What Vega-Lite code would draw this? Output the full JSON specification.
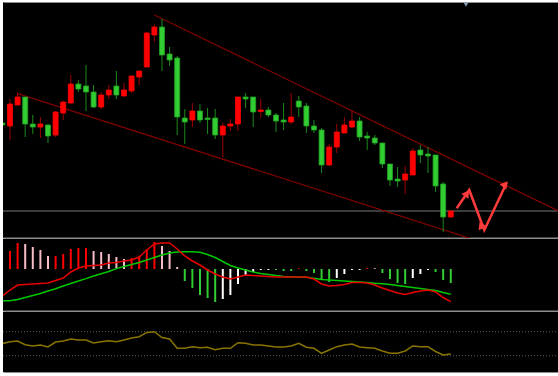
{
  "$schema": "https://vega.github.io/schema/vega-lite/v6.json",
  "background": "white",
  "padding": {"left": 2, "top": 2, "right": 0, "bottom": 3},
  "spacing": 1,
  "bounds": "flush",
  "config": {
    "view": {"stroke": null, "fill": "black"},
    "axis": {"labels": false, "ticks": false, "grid": false, "domainColor": "#8c8c8c", "title": null},
    "scale": {"continuousPadding": 0}
  },
  "resolve": {"scale": {"color": "independent", "fill": "independent", "stroke": "independent", "angle": "independent"}},
  "datasets": {
    "c": [
      {"i":0,"o":127,"h":127,"l":125,"c":125,"dir":"down","hist":0,"hs":"up+","macd":-27,"sig":-31.7,"rsi":50.3},
      {"i":1,"o":124,"h":151,"l":110,"c":146,"dir":"up","hist":18,"hs":"up+","macd":-21,"sig":-31.7,"rsi":53.3},
      {"i":2,"o":145,"h":157,"l":145,"c":153,"dir":"up","hist":26,"hs":"up+","macd":-16,"sig":-30.5,"rsi":54.5},
      {"i":3,"o":153,"h":153,"l":113,"c":126,"dir":"down","hist":25,"hs":"down+","macd":-15.5,"sig":-28.5,"rsi":48.2},
      {"i":4,"o":126,"h":135,"l":116,"c":123,"dir":"down","hist":22,"hs":"down+","macd":-15,"sig":-26.5,"rsi":46.2},
      {"i":5,"o":123,"h":133,"l":112,"c":126,"dir":"up","hist":19,"hs":"down+","macd":-14.5,"sig":-24.5,"rsi":47.8},
      {"i":6,"o":125,"h":126,"l":107,"c":114,"dir":"down","hist":13,"hs":"down+","macd":-14,"sig":-22,"rsi":44.5},
      {"i":7,"o":115,"h":139,"l":113,"c":138,"dir":"up","hist":13,"hs":"up+","macd":-11.5,"sig":-19.7,"rsi":52.8},
      {"i":8,"o":137,"h":149,"l":130,"c":148,"dir":"up","hist":15,"hs":"up+","macd":-9,"sig":-17,"rsi":54.5},
      {"i":9,"o":147,"h":175,"l":146,"c":166,"dir":"up","hist":20,"hs":"up+","macd":-3,"sig":-14.5,"rsi":57.8},
      {"i":10,"o":166,"h":170,"l":158,"c":161,"dir":"down","hist":21,"hs":"up+","macd":1,"sig":-12,"rsi":56.2},
      {"i":11,"o":164,"h":185,"l":139,"c":158,"dir":"down","hist":21,"hs":"up+","macd":3,"sig":-9.6,"rsi":56.2},
      {"i":12,"o":158,"h":165,"l":142,"c":143,"dir":"down","hist":18,"hs":"down+","macd":3.5,"sig":-7,"rsi":51.2},
      {"i":13,"o":143,"h":158,"l":141,"c":155,"dir":"up","hist":17,"hs":"down+","macd":4,"sig":-4.8,"rsi":53.3},
      {"i":14,"o":155,"h":165,"l":151,"c":160,"dir":"up","hist":15,"hs":"down+","macd":6,"sig":-2.5,"rsi":55},
      {"i":15,"o":164,"h":179,"l":151,"c":155,"dir":"down","hist":12,"hs":"down+","macd":6.5,"sig":0.4,"rsi":53.3},
      {"i":16,"o":154,"h":167,"l":154,"c":160,"dir":"up","hist":10,"hs":"down+","macd":8,"sig":2.5,"rsi":56.2},
      {"i":17,"o":159,"h":174,"l":157,"c":174,"dir":"up","hist":11,"hs":"up+","macd":9,"sig":4.5,"rsi":59.5},
      {"i":18,"o":173,"h":179,"l":165,"c":179,"dir":"up","hist":13,"hs":"up+","macd":12,"sig":6.5,"rsi":61.7},
      {"i":19,"o":183,"h":218,"l":183,"c":217,"dir":"up","hist":20,"hs":"up+","macd":19,"sig":9,"rsi":68.7},
      {"i":20,"o":215,"h":226,"l":208,"c":223,"dir":"up","hist":27,"hs":"up+","macd":25,"sig":11.5,"rsi":70},
      {"i":21,"o":223,"h":231,"l":179,"c":195,"dir":"down","hist":23,"hs":"down+","macd":26,"sig":14,"rsi":60.3},
      {"i":22,"o":196,"h":203,"l":184,"c":190,"dir":"down","hist":18,"hs":"down+","macd":26,"sig":16,"rsi":57.8},
      {"i":23,"o":192,"h":194,"l":115,"c":133,"dir":"down","hist":2,"hs":"down+","macd":20,"sig":17,"rsi":42.3},
      {"i":24,"o":132,"h":141,"l":106,"c":128,"dir":"down","hist":-12,"hs":"down-","macd":13,"sig":17.3,"rsi":42.3},
      {"i":25,"o":130,"h":147,"l":123,"c":139,"dir":"up","hist":-19,"hs":"down-","macd":8,"sig":17.3,"rsi":45},
      {"i":26,"o":139,"h":146,"l":127,"c":130,"dir":"down","hist":-26,"hs":"down-","macd":4,"sig":16.8,"rsi":43.3},
      {"i":27,"o":132,"h":142,"l":116,"c":130.5,"dir":"down","hist":-29,"hs":"down-","macd":-1,"sig":14.5,"rsi":44},
      {"i":28,"o":132,"h":141,"l":111,"c":115,"dir":"down","hist":-33,"hs":"down-","macd":-5,"sig":11.5,"rsi":40},
      {"i":29,"o":115,"h":127,"l":93,"c":124,"dir":"up","hist":-30,"hs":"up-","macd":-8,"sig":7.5,"rsi":42.3},
      {"i":30,"o":124,"h":131,"l":119,"c":126,"dir":"up","hist":-26,"hs":"up-","macd":-10,"sig":3.5,"rsi":42.3},
      {"i":31,"o":126,"h":153,"l":119,"c":153,"dir":"up","hist":-15,"hs":"up-","macd":-8,"sig":1,"rsi":51.7},
      {"i":32,"o":153,"h":157,"l":142,"c":151,"dir":"down","hist":-6,"hs":"up-","macd":-6,"sig":-1,"rsi":50.7},
      {"i":33,"o":153,"h":153,"l":123,"c":138,"dir":"down","hist":-3,"hs":"up-","macd":-6.5,"sig":-3,"rsi":47.8},
      {"i":34,"o":138.5,"h":151,"l":132,"c":140,"dir":"up","hist":-1,"hs":"up-","macd":-7,"sig":-4.5,"rsi":47.8},
      {"i":35,"o":140,"h":143,"l":133,"c":135,"dir":"down","hist":-1,"hs":"up-","macd":-7.5,"sig":-5.5,"rsi":46.2},
      {"i":36,"o":135,"h":137,"l":118,"c":129,"dir":"down","hist":-1,"hs":"down-","macd":-8,"sig":-6.5,"rsi":44.5},
      {"i":37,"o":130,"h":147,"l":120,"c":128,"dir":"down","hist":-2,"hs":"down-","macd":-8,"sig":-7.5,"rsi":44.5},
      {"i":38,"o":128,"h":157,"l":126,"c":133,"dir":"up","hist":-2,"hs":"down-","macd":-8,"sig":-7.8,"rsi":46.2},
      {"i":39,"o":149,"h":154,"l":133,"c":143,"dir":"down","hist":0.8,"hs":"up+","macd":-8,"sig":-8,"rsi":50.7},
      {"i":40,"o":144,"h":147,"l":117,"c":124,"dir":"down","hist":-2,"hs":"down-","macd":-8,"sig":-8.3,"rsi":44},
      {"i":41,"o":124,"h":130,"l":117,"c":120,"dir":"down","hist":-4,"hs":"down-","macd":-10,"sig":-9.3,"rsi":42.3},
      {"i":42,"o":120,"h":122,"l":77,"c":85,"dir":"down","hist":-11,"hs":"down-","macd":-15,"sig":-10.5,"rsi":34},
      {"i":43,"o":85,"h":106,"l":84,"c":103,"dir":"up","hist":-13,"hs":"down-","macd":-17,"sig":-11,"rsi":39.5},
      {"i":44,"o":103,"h":126,"l":97,"c":118,"dir":"up","hist":-9,"hs":"up-","macd":-16.5,"sig":-11.5,"rsi":45},
      {"i":45,"o":117,"h":133,"l":117,"c":125,"dir":"up","hist":-5,"hs":"up-","macd":-15.5,"sig":-12,"rsi":47.8},
      {"i":46,"o":123,"h":140,"l":122,"c":129,"dir":"up","hist":-1,"hs":"up-","macd":-13.5,"sig":-12.5,"rsi":49.5},
      {"i":47,"o":129,"h":133,"l":109,"c":113,"dir":"down","hist":-1,"hs":"up-","macd":-13.5,"sig":-13,"rsi":44.5},
      {"i":48,"o":114,"h":118,"l":100,"c":112,"dir":"down","hist":0.8,"hs":"up+","macd":-14,"sig":-13.5,"rsi":43.3},
      {"i":49,"o":112,"h":115,"l":105,"c":107,"dir":"down","hist":0.8,"hs":"down+","macd":-16,"sig":-14.2,"rsi":42.3},
      {"i":50,"o":107,"h":107,"l":82,"c":86,"dir":"down","hist":-4,"hs":"down-","macd":-19,"sig":-14.7,"rsi":37.8},
      {"i":51,"o":86,"h":86,"l":64,"c":70,"dir":"down","hist":-10,"hs":"down-","macd":-21.5,"sig":-15.5,"rsi":34},
      {"i":52,"o":71,"h":83,"l":63,"c":69,"dir":"down","hist":-14,"hs":"down-","macd":-24,"sig":-16.5,"rsi":34},
      {"i":53,"o":70,"h":84,"l":56,"c":76,"dir":"up","hist":-15,"hs":"down-","macd":-25.5,"sig":-17.5,"rsi":37.8},
      {"i":54,"o":75,"h":102,"l":75,"c":99,"dir":"up","hist":-9,"hs":"up-","macd":-23.5,"sig":-18.5,"rsi":46.2},
      {"i":55,"o":100,"h":105,"l":87,"c":95,"dir":"down","hist":-5,"hs":"up-","macd":-22,"sig":-19.5,"rsi":45},
      {"i":56,"o":96,"h":103,"l":77,"c":94,"dir":"down","hist":-1,"hs":"up-","macd":-21,"sig":-20.5,"rsi":45},
      {"i":57,"o":95,"h":95,"l":58,"c":64,"dir":"down","hist":-3,"hs":"down-","macd":-23,"sig":-21.5,"rsi":37},
      {"i":58,"o":66,"h":68,"l":18,"c":33,"dir":"down","hist":-11,"hs":"down-","macd":-28.5,"sig":-23.5,"rsi":31.2},
      {"i":59,"o":33,"h":39,"l":33,"c":39,"dir":"up","hist":-14,"hs":"down-","macd":-32.7,"sig":-25.3,"rsi":32.8}
    ],
    "trend": [
      {"side":"upper","i":19.99,"v":235},
      {"side":"upper","i":73.24,"v":38.7},
      {"side":"lower","i":1.92,"v":156.7},
      {"side":"lower","i":61.66,"v":11.4}
    ],
    "price": [{"v":39}],
    "arrow": [
      {"k":0,"i":59.78,"v":41.7},
      {"k":1,"i":61.43,"v":60},
      {"k":2,"i":63.41,"v":20},
      {"k":3,"i":66.36,"v":67.3}
    ],
    "heads": [
      {"seg":1,"i":61.13,"v":56.7},
      {"seg":2,"i":63.22,"v":23.7},
      {"seg":3,"i":66.13,"v":63.7}
    ],
    "shift": [{"i":61.0,"v":246.3}],
    "levels": [{"r":70},{"r":30}]
  },
  "vconcat": [
    {
      "width": 556,
      "height": 236,
      "resolve": {"axis": {"x": "independent"}},
      "layer": [
        {
          "data": {"name": "price"},
          "mark": {"type": "rule", "color": "#767676", "strokeWidth": 1},
          "encoding": {"y": {"field": "v", "type": "quantitative", "scale": {"domain": [12, 248], "nice": false, "zero": false}, "axis": null}}
        },
        {
          "data": {"name": "trend"},
          "mark": {"type": "line", "color": "#7d0000", "strokeWidth": 1.3, "clip": true},
          "encoding": {
            "x": {"field": "i", "type": "quantitative", "scale": {"domain": [0.08, 73.24], "nice": false, "zero": false, "padding": 0}, "axis": {"orient": "top", "domainWidth": 1}},
            "y": {"field": "v", "type": "quantitative", "axis": null},
            "detail": {"field": "side"}
          }
        },
        {
          "data": {"name": "c"},
          "mark": {"type": "rule", "strokeWidth": 1, "clip": true},
          "encoding": {
            "x": {"field": "i", "type": "quantitative", "axis": {"orient": "bottom", "domainWidth": 2}},
            "y": {"field": "l", "type": "quantitative", "axis": null},
            "y2": {"field": "h"},
            "color": {"field": "dir", "type": "nominal", "scale": {"domain": ["up", "down"], "range": ["#a00000", "#1d8a1d"]}, "legend": null}
          }
        },
        {
          "data": {"name": "c"},
          "mark": {"type": "bar", "size": 5, "strokeWidth": 0.8, "clip": true},
          "encoding": {
            "x": {"field": "i", "type": "quantitative", "axis": null},
            "y": {"field": "o", "type": "quantitative", "axis": null},
            "y2": {"field": "c"},
            "fill": {"field": "dir", "type": "nominal", "scale": {"domain": ["up", "down"], "range": ["#ff0000", "#32cd32"]}, "legend": null},
            "stroke": {"field": "dir", "type": "nominal", "scale": {"domain": ["up", "down"], "range": ["#ff0000", "#22a022"]}, "legend": null}
          }
        },
        {
          "data": {"name": "arrow"},
          "mark": {"type": "line", "color": "#ff3b3b", "strokeWidth": 2.5, "clip": true},
          "encoding": {
            "x": {"field": "i", "type": "quantitative", "axis": null},
            "y": {"field": "v", "type": "quantitative", "axis": null},
            "order": {"field": "k"}
          }
        },
        {
          "data": {"name": "heads"},
          "mark": {"type": "point", "shape": "triangle-up", "filled": true, "size": 75, "color": "#ff3b3b", "opacity": 1, "clip": true},
          "encoding": {
            "x": {"field": "i", "type": "quantitative", "axis": null},
            "y": {"field": "v", "type": "quantitative", "axis": null},
            "angle": {"field": "seg", "type": "ordinal", "scale": {"domain": [1, 2, 3], "range": [34, 159, 25]}, "legend": null}
          }
        },
        {
          "data": {"name": "shift"},
          "mark": {"type": "point", "shape": "triangle-down", "filled": true, "size": 50, "color": "#8a9cb4", "opacity": 1, "clip": true},
          "encoding": {
            "x": {"field": "i", "type": "quantitative", "axis": null},
            "y": {"field": "v", "type": "quantitative", "axis": null}
          }
        }
      ]
    },
    {
      "width": 556,
      "height": 72,
      "data": {"name": "c"},
      "layer": [
        {
          "mark": {"type": "rule", "strokeWidth": 2, "clip": true},
          "encoding": {
            "x": {"field": "i", "type": "quantitative", "scale": {"domain": [0.08, 73.24], "nice": false, "zero": false, "padding": 0}, "axis": {"orient": "bottom", "domainWidth": 2}},
            "y": {"field": "hist", "type": "quantitative", "scale": {"domain": [-42, 30], "nice": false, "zero": false}, "axis": null},
            "y2": {"datum": 0},
            "color": {"field": "hs", "type": "nominal", "scale": {"domain": ["up+", "down+", "down-", "up-"], "range": ["#ff0000", "#f7bcc6", "#32cd32", "#ffffff"]}, "legend": null}
          }
        },
        {
          "mark": {"type": "line", "color": "#00c800", "strokeWidth": 1.5, "clip": true},
          "encoding": {
            "x": {"field": "i", "type": "quantitative"},
            "y": {"field": "sig", "type": "quantitative", "axis": null}
          }
        },
        {
          "mark": {"type": "line", "color": "#e80000", "strokeWidth": 1.5, "clip": true},
          "encoding": {
            "x": {"field": "i", "type": "quantitative"},
            "y": {"field": "macd", "type": "quantitative", "axis": null}
          }
        }
      ]
    },
    {
      "width": 556,
      "height": 60,
      "layer": [
        {
          "data": {"name": "levels"},
          "mark": {"type": "rule", "color": "#5e5e5e", "strokeWidth": 1, "strokeDash": [1, 2]},
          "encoding": {
            "y": {"field": "r", "type": "quantitative", "scale": {"domain": [2.8, 102.8], "nice": false, "zero": false}, "axis": null}
          }
        },
        {
          "data": {"name": "c"},
          "mark": {"type": "line", "color": "#8a7400", "strokeWidth": 1.5, "clip": true},
          "encoding": {
            "x": {"field": "i", "type": "quantitative", "scale": {"domain": [0.08, 73.24], "nice": false, "zero": false, "padding": 0}, "axis": {"orient": "bottom", "domainWidth": 1}},
            "y": {"field": "rsi", "type": "quantitative", "axis": null}
          }
        }
      ]
    }
  ]
}
